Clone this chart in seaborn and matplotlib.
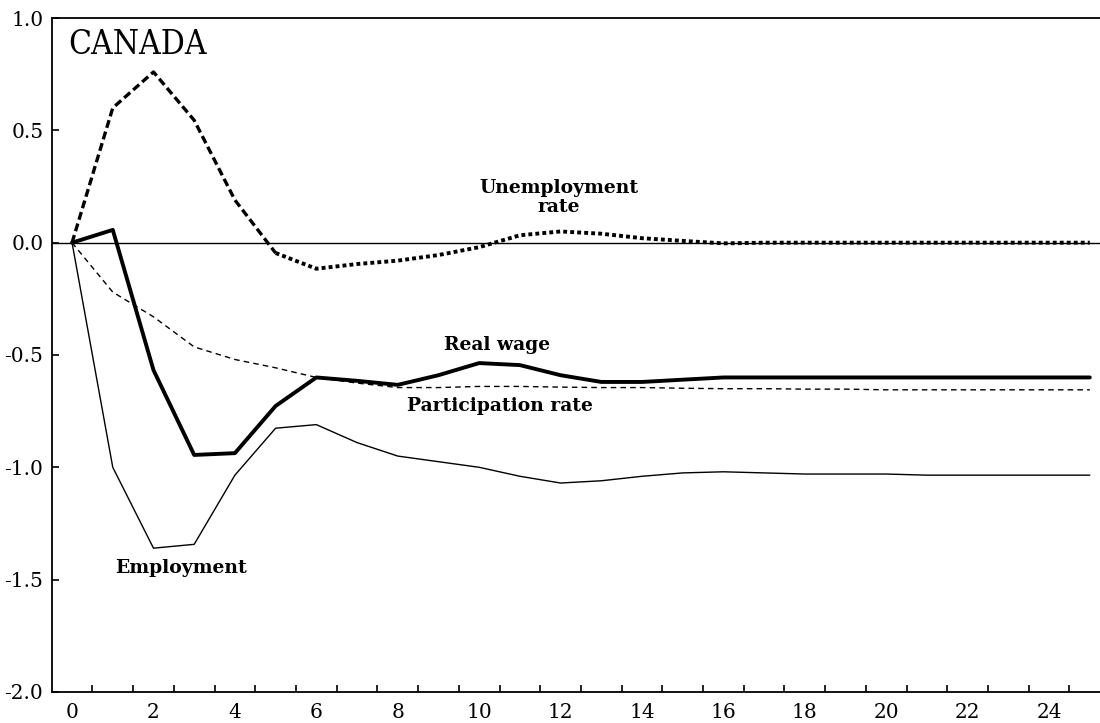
import numpy as np
import pandas as pd
import seaborn as sns
import matplotlib.pyplot as plt

# impulse responses, Canada
steps = list(range(26))
unemployment = [0, 0.60, 0.76, 0.545, 0.19, -0.046, -0.116, -0.095, -0.08, -0.055,
                -0.02, 0.033, 0.05, 0.04, 0.02, 0.008, -0.003, 0, 0, 0,
                0, 0, 0, 0, 0, 0]
real_wage = [0, 0.057, -0.567, -0.945, -0.937, -0.727, -0.60, -0.615, -0.633, -0.59,
             -0.536, -0.545, -0.59, -0.62, -0.62, -0.61, -0.60, -0.60, -0.60, -0.60,
             -0.60, -0.60, -0.60, -0.60, -0.60, -0.60]
participation = [0, -0.22, -0.33, -0.464, -0.52, -0.557, -0.60, -0.625, -0.645, -0.645,
                 -0.64, -0.64, -0.643, -0.645, -0.645, -0.648, -0.65, -0.65, -0.652, -0.652,
                 -0.655, -0.655, -0.655, -0.655, -0.655, -0.655]
employment = [0, -1.0, -1.36, -1.343, -1.035, -0.826, -0.81, -0.89, -0.95, -0.975,
              -1.0, -1.04, -1.07, -1.06, -1.04, -1.025, -1.02, -1.025, -1.03, -1.03,
              -1.03, -1.035, -1.035, -1.035, -1.035, -1.035]
brk = 5  # unemployment line goes from dashed to dotted here

sns.set_style("ticks", {'text.color': 'black', 'xtick.color': 'black',
                        'ytick.color': 'black', 'axes.edgecolor': 'black'})
plt.rcParams['font.family'] = ['DejaVu Serif']
plt.rcParams['axes.unicode_minus'] = False

fig = plt.figure(figsize=(11, 7.23), dpi=100)
ax = fig.add_axes([0.047, 0.043, 0.953, 0.932])

ax.axhline(0, color='black', lw=1.0, zorder=1)

sns.lineplot(x=steps[:brk + 1], y=unemployment[:brk + 1], ax=ax, color='black',
             lw=2.4, linestyle=(0, (2.4, 1.2)))
sns.lineplot(x=steps[brk:], y=unemployment[brk:], ax=ax, color='black',
             lw=2.8, linestyle=(0, (1.0, 0.8)))
sns.lineplot(x=steps, y=real_wage, ax=ax, color='black', lw=2.8)
sns.lineplot(x=steps, y=participation, ax=ax, color='black', lw=1.0,
             linestyle=(0, (4, 3)))
sns.lineplot(x=steps, y=employment, ax=ax, color='black', lw=1.0)

ax.set_xlim(-0.5, 25.25)
ax.set_ylim(-2.0, 1.0)
ax.set_xlabel('')
ax.set_ylabel('')

ax.set_xticks(range(0, 25, 2))
ax.set_xticks(np.arange(0.5, 25, 1), minor=True)
ax.tick_params(axis='x', which='major', length=0, pad=8, labelsize=14.5)
ax.tick_params(axis='x', which='minor', direction='in', length=5, width=1.2)
ax.set_yticks(np.arange(-2.0, 1.01, 0.5))
ax.set_yticklabels([f'{v:.1f}' for v in np.arange(-2.0, 1.01, 0.5)])
ax.tick_params(axis='y', direction='in', length=5, width=1.2, pad=6, labelsize=14.5)

ax.spines['right'].set_visible(False)
for s in ['left', 'top', 'bottom']:
    ax.spines[s].set_linewidth(1.3)

ax.text(-0.1, 0.88, 'CANADA', fontsize=24, ha='left', va='center', fontstretch='condensed')
ax.text(11.95, 0.2, 'Unemployment\nrate', fontsize=13.5, fontweight='bold',
        ha='center', va='center', linespacing=1.05)
ax.text(10.45, -0.455, 'Real wage', fontsize=13.5, fontweight='bold', ha='center', va='center')
ax.text(10.5, -0.727, 'Participation rate', fontsize=13.5, fontweight='bold',
        ha='center', va='center')
ax.text(2.68, -1.45, 'Employment', fontsize=13.5, fontweight='bold', ha='center', va='center')

fig.savefig('out.png', dpi=100)
